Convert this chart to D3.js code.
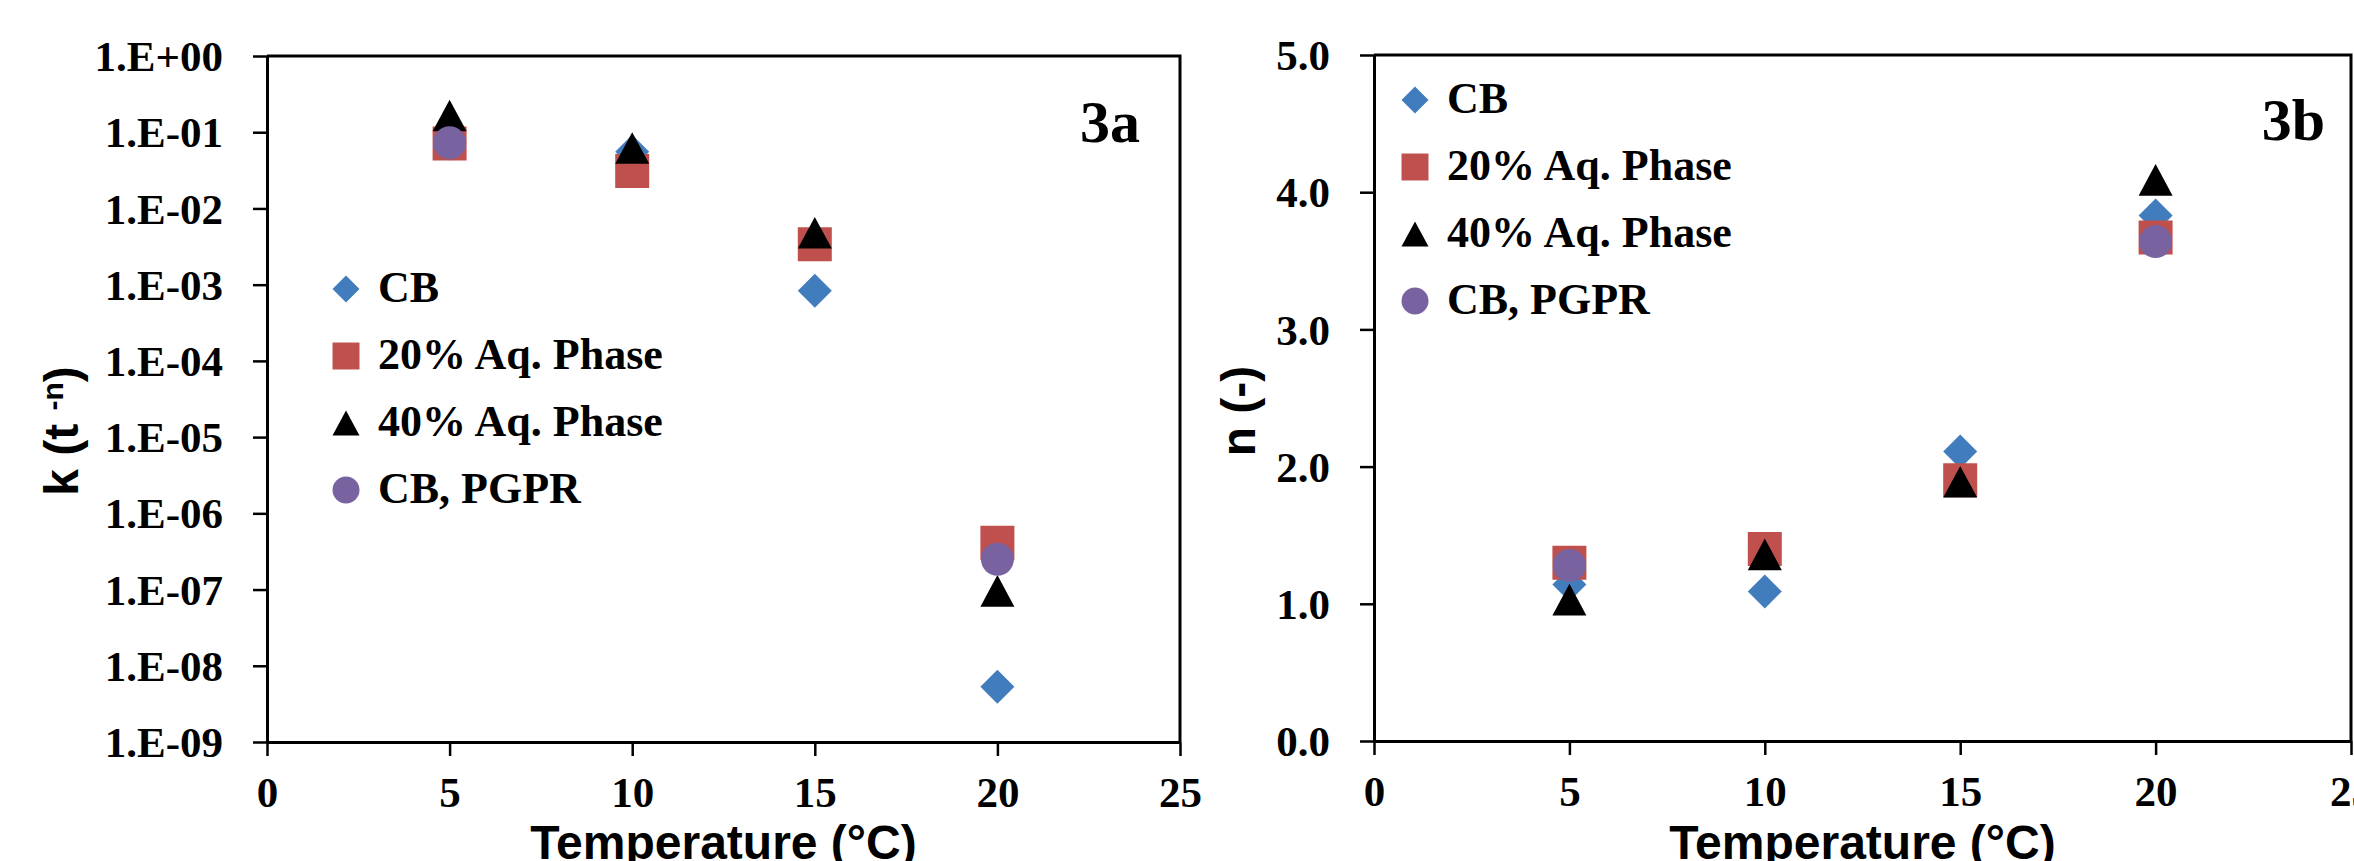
<!DOCTYPE html>
<html>
<head>
<meta charset="utf-8">
<script src="https://cdn.jsdelivr.net/npm/d3@7"></script>
<style>
  body { margin: 0; background: #fff; }
  svg { display: block; }
</style>
</head>
<body>
<svg width="2354" height="861"></svg>
<script>
// data
var temps = [5, 10, 15, 20];
var seriesNames = ["CB", "20% Aq. Phase", "40% Aq. Phase", "CB, PGPR"];

// 3a: k (log scale)
var kCB = [0.071, 0.0555, 8.3e-4, 5.3e-9];
var k20 = [0.071, 0.031, 0.0034, 4.1e-7];
var k40 = [0.166, 0.062, 0.0048, 9.6e-8];
var kPGPR = [0.0726, null, null, 2.5e-7];

// 3b: n
var nCB = [1.14, 1.09, 2.11, 3.83];
var n20 = [1.30, 1.40, 1.90, 3.67];
var n40 = [1.03, 1.36, 1.89, 4.09];
var nPGPR = [1.28, null, null, 3.64];

var xTicks = [0, 5, 10, 15, 20, 25];
var kTicks = [1, 1e-1, 1e-2, 1e-3, 1e-4, 1e-5, 1e-6, 1e-7, 1e-8, 1e-9];
var nTicks = [0, 1, 2, 3, 4, 5];

var colors = ["#417DBD", "#C0504D", "#000000", "#7862A0"];

// marker shapes, size = width squared
var diamond = {draw: function (c, s) { var r = Math.sqrt(s) / 2; c.moveTo(0, -r); c.lineTo(r, 0); c.lineTo(0, r); c.lineTo(-r, 0); c.closePath(); }};
var square = {draw: function (c, s) { var r = Math.sqrt(s) / 2; c.rect(-r, -r, 2 * r, 2 * r); }};
var triangle = {draw: function (c, s) { var w = Math.sqrt(s) / 2, h = w * 0.93; c.moveTo(0, -h); c.lineTo(w, h); c.lineTo(-w, h); c.closePath(); }};
var circle = {draw: function (c, s) { var r = Math.sqrt(s) / 2; c.moveTo(r, 0); c.arc(0, 0, r, 0, 2 * Math.PI); }};
var shapes = [diamond, square, triangle, circle];
var markerW = [34, 34, 34, 33];

var svg = d3.select("svg");
var serif = "'Liberation Serif', 'Times New Roman', serif";
var sans = "'Liberation Sans', Arial, sans-serif";

function expFormat(d) {
    var e = Math.round(Math.log10(d));
    return "1.E" + (e < 0 ? "-" : "+") + String(Math.abs(e)).padStart(2, "0");
}

function drawPanel(p) {
    var g = svg.append("g");
    var x = p.x, y = p.y;
    var x0 = x.range()[0], x1 = x.range()[1];
    var yb = y.range()[0], yt = y.range()[1];

    // x axis
    var ax = g.append("g")
        .attr("transform", "translate(0," + yb + ")")
        .call(d3.axisBottom(x).tickValues(xTicks).tickSize(14).tickSizeOuter(0).tickFormat(d3.format("d")));
    ax.selectAll("text").attr("y", 65).attr("dy", null);

    // y axis
    var ay = g.append("g")
        .attr("transform", "translate(" + x0 + ",0)")
        .call(d3.axisLeft(y).tickValues(p.yTicks).tickSize(14).tickSizeOuter(0).tickFormat(p.yFormat));
    ay.selectAll("text").attr("x", -44).attr("dy", "0.34em");

    [ax, ay].forEach(function (a) {
        a.selectAll("text").style("font-family", serif).style("font-weight", "bold")
            .style("font-size", "43px").attr("fill", "#000");
        a.selectAll("line").attr("stroke", "#000").attr("stroke-width", 2.5);
        a.select(".domain").attr("stroke", "#000").attr("stroke-width", 3);
    });

    // frame top and right
    g.append("path")
        .attr("d", "M" + x0 + "," + yt + "H" + x1 + "V" + yb)
        .attr("fill", "none").attr("stroke", "#000").attr("stroke-width", 3);

    // points, series in Excel draw order
    p.series.forEach(function (vals, i) {
        var pts = temps.map(function (t, j) { return {t: t, v: vals[j]}; })
            .filter(function (d) { return d.v != null; });
        g.selectAll(".s" + i)
            .data(pts)
            .enter()
            .append("path")
            .attr("transform", function (d) { return "translate(" + x(d.t) + "," + y(d.v) + ")"; })
            .attr("d", d3.symbol().type(shapes[i]).size(markerW[i] * markerW[i]))
            .attr("fill", colors[i]);
    });

    // legend
    seriesNames.forEach(function (name, i) {
        var ly = p.legendY + i * p.legendStep;
        g.append("path")
            .attr("transform", "translate(" + p.legendX + "," + ly + ")")
            .attr("d", d3.symbol().type(shapes[i]).size(27 * 27))
            .attr("fill", colors[i]);
        g.append("text")
            .attr("x", p.legendX + 32)
            .attr("y", ly + 13)
            .style("font-family", serif).style("font-weight", "bold").style("font-size", "44px")
            .text(name);
    });

    // panel tag
    g.append("text")
        .attr("x", p.tagX).attr("y", p.tagY)
        .attr("text-anchor", "end")
        .style("font-family", serif).style("font-weight", "bold").style("font-size", "60px")
        .text(p.tag);

    // x title
    g.append("text")
        .attr("x", (x0 + x1) / 2).attr("y", 859)
        .attr("text-anchor", "middle")
        .style("font-family", sans).style("font-weight", "bold").style("font-size", "48px")
        .text("Temperature (°C)");

    // y title
    var yt2 = g.append("text")
        .attr("transform", "translate(" + p.yTitleX + "," + p.yTitleY + ") rotate(-90)")
        .attr("text-anchor", "middle")
        .style("font-family", sans).style("font-weight", "bold").style("font-size", "48px");
    p.yTitle(yt2);
}

drawPanel({
    x: d3.scaleLinear([0, 25], [267, 1180]),
    y: d3.scaleLog([1e-9, 1], [742, 56]),
    yTicks: kTicks,
    yFormat: expFormat,
    series: [kCB, k20, k40, kPGPR],
    legendX: 346, legendY: 289, legendStep: 67,
    tag: "3a", tagX: 1140, tagY: 142,
    yTitleX: 78, yTitleY: 431,
    yTitle: function (t) {
        t.append("tspan").text("k (t ");
        t.append("tspan").attr("dy", -15).style("font-size", "30px").text("-n");
        t.append("tspan").attr("dy", 15).text(")");
    }
});

drawPanel({
    x: d3.scaleLinear([0, 25], [1374, 2351]),
    y: d3.scaleLinear([0, 5], [741, 55]),
    yTicks: nTicks,
    yFormat: d3.format(".1f"),
    series: [nCB, n20, n40, nPGPR],
    legendX: 1415, legendY: 100, legendStep: 67,
    tag: "3b", tagX: 2325, tagY: 140,
    yTitleX: 1255, yTitleY: 411,
    yTitle: function (t) { t.text("n (-)"); }
});
</script>
</body>
</html>
